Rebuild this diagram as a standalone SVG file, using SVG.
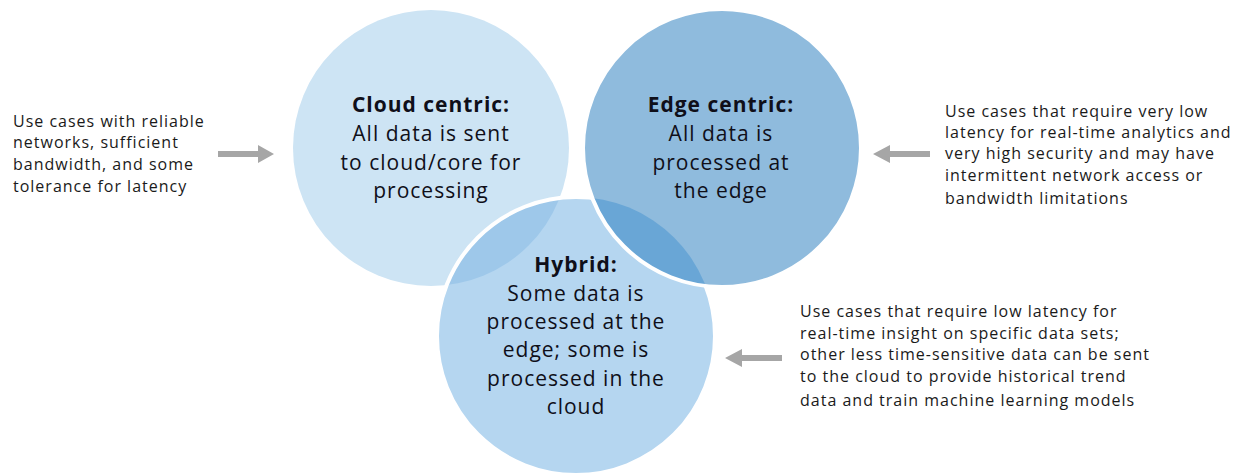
<svg xmlns="http://www.w3.org/2000/svg" width="1242" height="475" viewBox="0 0 1242 475">
<style>
.title{font-family:"Open Sans","Liberation Sans",sans-serif;font-size:21px;letter-spacing:1px;font-weight:bold;fill:#0f0f19;text-anchor:middle}
.body{font-family:"Open Sans","Liberation Sans",sans-serif;font-size:21px;letter-spacing:1px;fill:#0f0f19;text-anchor:middle}
.side{font-family:"Open Sans","Liberation Sans",sans-serif;font-size:16px;letter-spacing:1px;fill:#1a1a1a}
.arrow{fill:#a6a6a6}
</style>
<defs>
<clipPath id="clipCloud"><circle cx="431" cy="148" r="138"/></clipPath>
<clipPath id="clipEdge"><circle cx="722" cy="148" r="139"/></clipPath>
</defs>
<g id="cloud">
<circle cx="431" cy="148" r="138" fill="#cde4f4"/>
</g>
<g id="hybrid">
<circle cx="576" cy="336" r="139" fill="#b5d6f0"/>
<circle cx="576" cy="336" r="139" fill="#9ec8ea" clip-path="url(#clipCloud)"/>
<circle cx="576" cy="336" r="139" fill="none" stroke="#ffffff" stroke-width="4"/>
</g>
<g id="edge">
<circle cx="722" cy="148" r="139" fill="#8fbbdd"/>
<circle cx="576" cy="336" r="139" fill="#69a6d6" clip-path="url(#clipEdge)"/>
<circle cx="722" cy="148" r="139" fill="none" stroke="#ffffff" stroke-width="4"/>
</g>
<g id="cloud-text">
<text class="title" x="431" y="112">Cloud centric:</text>
<text class="body" x="431" y="141">All data is sent</text>
<text class="body" x="431" y="170">to cloud/core for</text>
<text class="body" x="431" y="198">processing</text>
</g>
<g id="edge-text">
<text class="title" x="721" y="112">Edge centric:</text>
<text class="body" x="721" y="141">All data is</text>
<text class="body" x="721" y="170">processed at</text>
<text class="body" x="721" y="198">the edge</text>
</g>
<g id="hybrid-text">
<text class="title" x="576" y="272">Hybrid:</text>
<text class="body" x="576" y="301">Some data is</text>
<text class="body" x="576" y="329">processed at the</text>
<text class="body" x="576" y="357">edge; some is</text>
<text class="body" x="576" y="386">processed in the</text>
<text class="body" x="576" y="414">cloud</text>
</g>
<g id="left-note">
<text class="side" x="13" y="127">Use cases with reliable</text>
<text class="side" x="13" y="148">networks, sufficient</text>
<text class="side" x="13" y="170">bandwidth, and some</text>
<text class="side" x="13" y="192">tolerance for latency</text>
</g>
<g id="edge-note">
<text class="side" x="945" y="117">Use cases that require very low</text>
<text class="side" x="945" y="138">latency for real-time analytics and</text>
<text class="side" x="945" y="159">very high security and may have</text>
<text class="side" x="945" y="181">intermittent network access or</text>
<text class="side" x="945" y="204">bandwidth limitations</text>
</g>
<g id="hybrid-note">
<text class="side" x="800" y="317">Use cases that require low latency for</text>
<text class="side" x="800" y="339">real-time insight on specific data sets;</text>
<text class="side" x="800" y="360">other less time-sensitive data can be sent</text>
<text class="side" x="800" y="382">to the cloud to provide historical trend</text>
<text class="side" x="800" y="406">data and train machine learning models</text>
</g>
<g id="connectors">
<polygon class="arrow" points="218,151 258,151 258,145 274,154 258,163 258,157 218,157"/>
<polygon class="arrow" points="930,151 890,151 890,145 873,154 890,163 890,157 930,157"/>
<polygon class="arrow" points="782,355 742,355 742,349 725,358 742,367 742,361 782,361"/>
</g>
</svg>
